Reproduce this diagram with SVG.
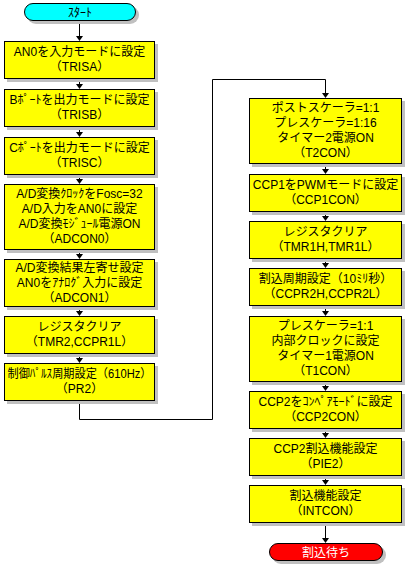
<svg xmlns="http://www.w3.org/2000/svg" width="408" height="568" viewBox="0 0 408 568">
<style>
text{font-family:"Liberation Sans","Noto Sans CJK JP",sans-serif;font-size:12px;text-anchor:middle;fill:#000}
.box{fill:#ffff00;stroke:#000;stroke-width:1}
.sh{fill:#c0c0c0}
.start{fill:#00ffff;stroke:#000;stroke-width:1}
.end{fill:#ff0000;stroke:#000;stroke-width:1}
.wt{fill:#fff}
.con{fill:none;stroke:#000;stroke-width:1}
</style>
<g id="connectors">
<path class="con" d="M79.5,21 V40"/>
<path class="con" d="M79.5,79 V88"/>
<path class="con" d="M79.5,127 V136"/>
<path class="con" d="M79.5,175 V183"/>
<path class="con" d="M79.5,250 V258"/>
<path class="con" d="M79.5,307 V315"/>
<path class="con" d="M79.5,354 V362"/>
<path class="con" d="M79.5,401 V419.5 H212.5 V79.5 H325.5 V97"/>
<path class="con" d="M325.5,164 V173"/>
<path class="con" d="M325.5,212 V220"/>
<path class="con" d="M325.5,259 V267"/>
<path class="con" d="M325.5,306 V315"/>
<path class="con" d="M325.5,382 V390"/>
<path class="con" d="M325.5,429 V437"/>
<path class="con" d="M325.5,476 V484"/>
<path class="con" d="M325.5,523 V542"/>
<g fill="#000">
<path d="M76,36 H83 L79.5,41 Z"/>
<path d="M76,84 H83 L79.5,89 Z"/>
<path d="M76,132 H83 L79.5,137 Z"/>
<path d="M76,179 H83 L79.5,184 Z"/>
<path d="M76,254 H83 L79.5,259 Z"/>
<path d="M76,311 H83 L79.5,316 Z"/>
<path d="M76,358 H83 L79.5,363 Z"/>
<path d="M322,93 H329 L325.5,98 Z"/>
<path d="M322,169 H329 L325.5,174 Z"/>
<path d="M322,216 H329 L325.5,221 Z"/>
<path d="M322,263 H329 L325.5,268 Z"/>
<path d="M322,311 H329 L325.5,316 Z"/>
<path d="M322,386 H329 L325.5,391 Z"/>
<path d="M322,433 H329 L325.5,438 Z"/>
<path d="M322,480 H329 L325.5,485 Z"/>
<path d="M322,538 H329 L325.5,543 Z"/>
</g>
</g>
<g id="start">
<rect class="sh" x="27" y="6" width="112" height="18" rx="9"/>
<rect class="start" x="24.5" y="3.5" width="111" height="17" rx="8.5"/>
<text x="80" y="16.5">ｽﾀｰﾄ</text>
</g>
<g id="n1">
<rect class="sh" x="7" y="44" width="151" height="38"/>
<rect class="box" x="4.5" y="41.5" width="150" height="37"/>
<text x="79.5" y="55.5">AN0を入力モードに設定</text>
<text x="79.5" y="70.5">（TRISA）</text>
</g>
<g id="n2">
<rect class="sh" x="7" y="92" width="151" height="38"/>
<rect class="box" x="4.5" y="89.5" width="150" height="37"/>
<text x="79.5" y="103.5">Bﾎﾟｰﾄを出力モードに設定</text>
<text x="79.5" y="118.5">（TRISB）</text>
</g>
<g id="n3">
<rect class="sh" x="7" y="140" width="151" height="38"/>
<rect class="box" x="4.5" y="137.5" width="150" height="37"/>
<text x="79.5" y="151.5">Cﾎﾟｰﾄを出力モードに設定</text>
<text x="79.5" y="166.5">（TRISC）</text>
</g>
<g id="n4">
<rect class="sh" x="7" y="187" width="151" height="66"/>
<rect class="box" x="4.5" y="184.5" width="150" height="65"/>
<text x="79.5" y="197.5">A/D変換ｸﾛｯｸをFosc=32</text>
<text x="79.5" y="212.5">A/D入力をAN0に設定</text>
<text x="79.5" y="227.5">A/D変換ﾓｼﾞｭｰﾙ電源ON</text>
<text x="79.5" y="242.5">（ADCON0）</text>
</g>
<g id="n5">
<rect class="sh" x="7" y="262" width="151" height="48"/>
<rect class="box" x="4.5" y="259.5" width="150" height="47"/>
<text x="79.5" y="272">A/D変換結果左寄せ設定</text>
<text x="79.5" y="287">AN0をｱﾅﾛｸﾞ入力に設定</text>
<text x="79.5" y="302">（ADCON1）</text>
</g>
<g id="n6">
<rect class="sh" x="7" y="319" width="151" height="38"/>
<rect class="box" x="4.5" y="316.5" width="150" height="37"/>
<text x="79.5" y="330.5">レジスタクリア</text>
<text x="79.5" y="345.5">（TMR2,CCPR1L）</text>
</g>
<g id="n7">
<rect class="sh" x="7" y="366" width="151" height="38"/>
<rect class="box" x="4.5" y="363.5" width="150" height="37"/>
<text x="79.5" y="377.5" textLength="144" lengthAdjust="spacingAndGlyphs">制御ﾊﾟﾙｽ周期設定（610Hz）</text>
<text x="79.5" y="392.5">（PR2）</text>
</g>
<g id="r1">
<rect class="sh" x="252" y="101" width="153" height="66"/>
<rect class="box" x="249.5" y="98.5" width="152" height="65"/>
<text x="325.5" y="111.5">ポストスケーラ=1:1</text>
<text x="325.5" y="126.5">プレスケーラ=1:16</text>
<text x="325.5" y="141.5">タイマー2電源ON</text>
<text x="325.5" y="156.5">（T2CON）</text>
</g>
<g id="r2">
<rect class="sh" x="252" y="177" width="153" height="38"/>
<rect class="box" x="249.5" y="174.5" width="152" height="37"/>
<text x="325.5" y="188.5">CCP1をPWMモードに設定</text>
<text x="325.5" y="203.5">（CCP1CON）</text>
</g>
<g id="r3">
<rect class="sh" x="252" y="224" width="153" height="38"/>
<rect class="box" x="249.5" y="221.5" width="152" height="37"/>
<text x="325.5" y="235.5">レジスタクリア</text>
<text x="325.5" y="250.5">（TMR1H,TMR1L）</text>
</g>
<g id="r4">
<rect class="sh" x="252" y="271" width="153" height="38"/>
<rect class="box" x="249.5" y="268.5" width="152" height="37"/>
<text x="325.5" y="282.5">割込周期設定（10ﾐﾘ秒）</text>
<text x="325.5" y="297.5">（CCPR2H,CCPR2L）</text>
</g>
<g id="r5">
<rect class="sh" x="252" y="319" width="153" height="66"/>
<rect class="box" x="249.5" y="316.5" width="152" height="65"/>
<text x="325.5" y="329.5">プレスケーラ=1:1</text>
<text x="325.5" y="344.5">内部クロックに設定</text>
<text x="325.5" y="359.5">タイマー1電源ON</text>
<text x="325.5" y="374.5">（T1CON）</text>
</g>
<g id="r6">
<rect class="sh" x="252" y="394" width="153" height="38"/>
<rect class="box" x="249.5" y="391.5" width="152" height="37"/>
<text x="325.5" y="405.5">CCP2をｺﾝﾍﾟｱﾓｰﾄﾞに設定</text>
<text x="325.5" y="420.5">（CCP2CON）</text>
</g>
<g id="r7">
<rect class="sh" x="252" y="441" width="153" height="38"/>
<rect class="box" x="249.5" y="438.5" width="152" height="37"/>
<text x="325.5" y="452.5">CCP2割込機能設定</text>
<text x="325.5" y="467.5">（PIE2）</text>
</g>
<g id="r8">
<rect class="sh" x="252" y="488" width="153" height="38"/>
<rect class="box" x="249.5" y="485.5" width="152" height="37"/>
<text x="325.5" y="499.5">割込機能設定</text>
<text x="325.5" y="514.5">（INTCON）</text>
</g>
<g id="end">
<rect class="sh" x="272" y="546" width="114" height="18" rx="9"/>
<rect class="end" x="269.5" y="543.5" width="113" height="17" rx="8.5"/>
<text class="wt" x="326" y="556.5">割込待ち</text>
</g>
</svg>
